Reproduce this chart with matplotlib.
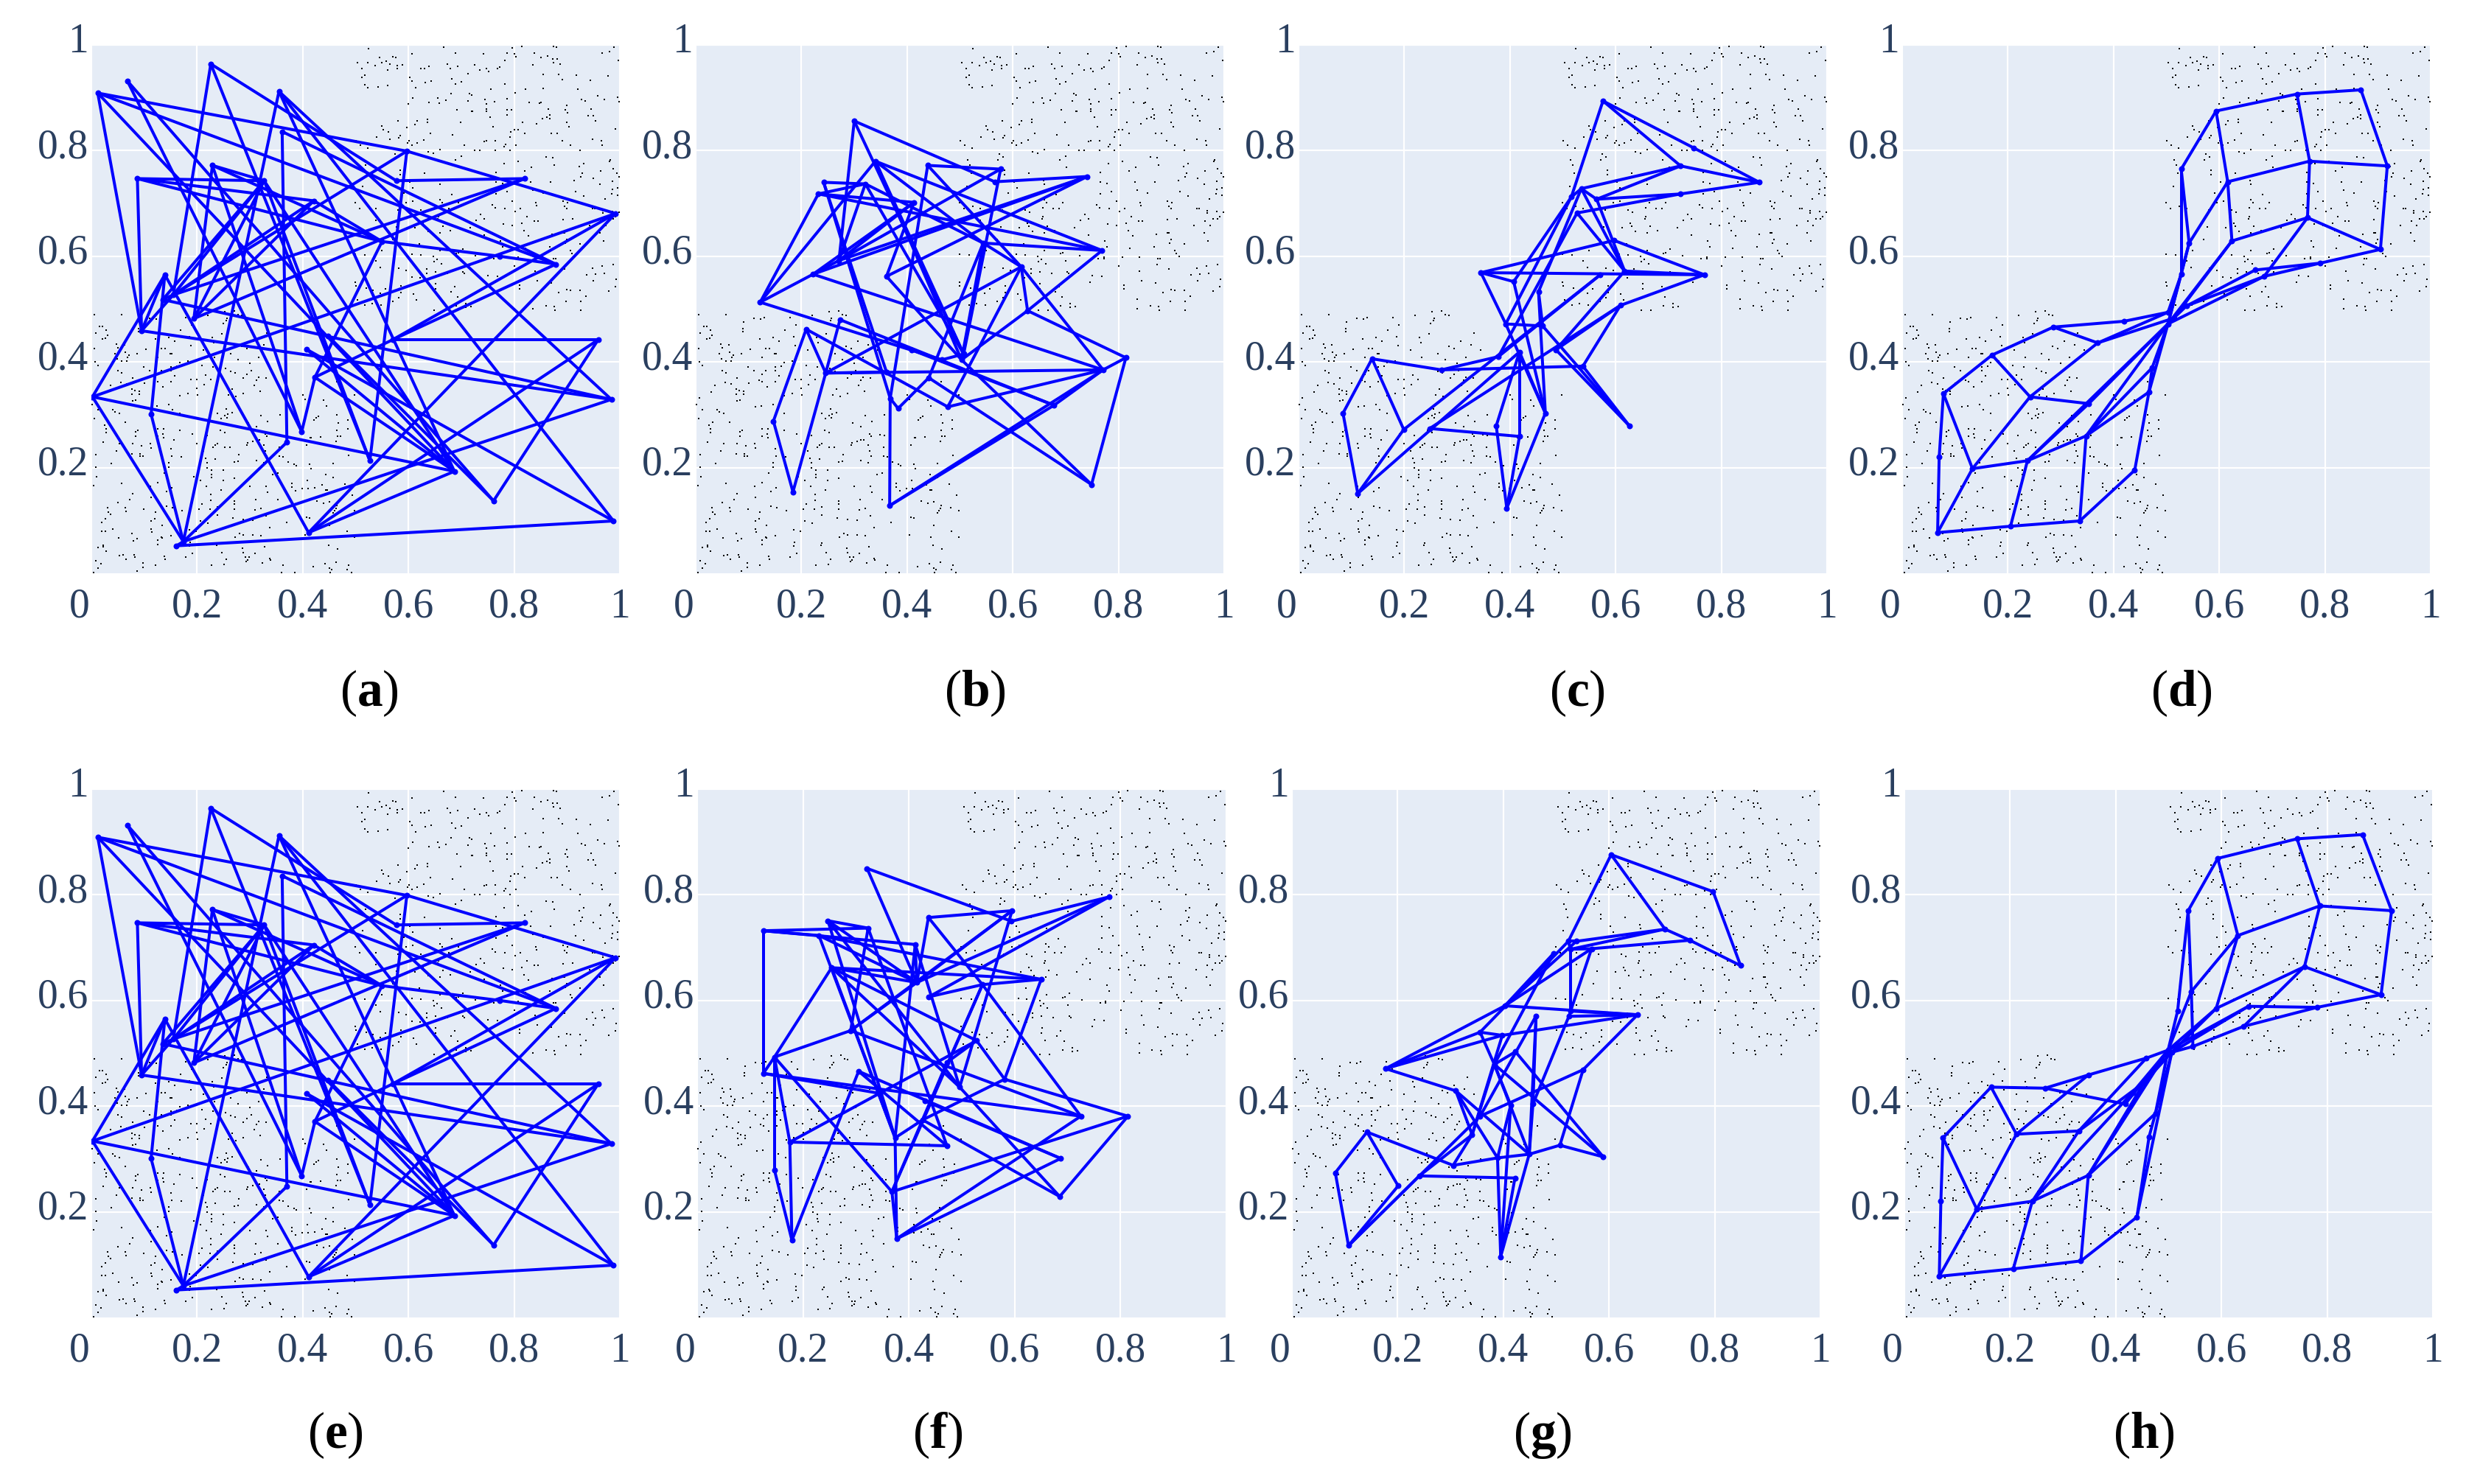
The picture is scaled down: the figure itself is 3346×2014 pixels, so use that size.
import matplotlib
matplotlib.use('Agg')
import matplotlib.pyplot as plt
from matplotlib.transforms import ScaledTranslation

# --- background samples (same in every panel) ---
dots_upper = [
    (.525,.993),(.666,.996),(.796,.995),(.814,.997),(.875,.997),(.880,.996),(.989,.996),(.607,.983),(.689,.985),(.742,.983),(.786,.985),(.800,.983),(.804,.977),(.838,.984),(.966,.984),(.980,.987),
    (.545,.976),(.570,.978),(.576,.976),(.851,.976),(.864,.979),(.873,.973),(.881,.974),(.997,.971),(.504,.966),(.523,.966),(.550,.967),(.558,.969),(.565,.964),(.537,.961),(.579,.961),(.588,.963),
    (.674,.964),(.783,.971),(.725,.962),(.693,.959),(.835,.963),(.874,.967),(.887,.964),(.512,.955),(.579,.956),(.560,.952),(.623,.955),(.631,.956),(.639,.960),(.679,.956),(.735,.953),(.748,.955),
    (.752,.950),(.768,.956),(.773,.958),(.517,.943),(.512,.938),(.602,.938),(.713,.945),(.855,.944),(.884,.944),(.918,.943),(.978,.942),(.682,.936),(.891,.935),(.944,.933),(.607,.931),(.632,.929),
    (.643,.932),(.689,.926),(.700,.930),(.782,.926),(.517,.925),(.523,.919),(.542,.920),(.561,.923),(.614,.919),(.756,.917),(.822,.917),(.855,.918),(.921,.917),(.681,.908),(.715,.908),(.720,.905),
    (.802,.910),(.958,.904),(.608,.900),(.656,.900),(.671,.896),(.712,.894),(.745,.897),(.763,.893),(.787,.898),(.928,.897),(.935,.894),(.971,.897),(.996,.901),(.999,.893),(.600,.889),(.639,.891),
    (.658,.890),(.747,.888),(.829,.891),(.848,.890),(.851,.891),(.900,.886),(.748,.879),(.748,.874),(.692,.877),(.719,.874),(.721,.875),(.787,.877),(.795,.877),(.786,.868),(.865,.879),(.897,.877),
    (.901,.871),(.946,.879),(.754,.863),(.868,.867),(.862,.863),(.867,.861),(.853,.861),(.940,.866),(.950,.866),(.954,.857),(.616,.857),(.636,.859),(.636,.854),(.580,.857),(.699,.854),(.816,.853),
    (.842,.851),(.900,.853),(.550,.847),(.612,.850),(.597,.844),(.552,.840),(.760,.845),(.904,.845),(.991,.841),(.562,.836),(.808,.840),(.800,.839),(.793,.835),(.820,.833),(.642,.833),(.870,.833),
    (.881,.832),(.684,.830),(.792,.826),(.585,.829),(.581,.824),(.540,.825),(.565,.822),(.891,.818),(.948,.822),(.965,.819),(.501,.819),(.601,.818),(.598,.815),(.616,.815),(.629,.820),(.743,.817),
    (.748,.818),(.764,.819),(.509,.811),(.606,.810),(.706,.810),(.784,.812),(.803,.810),(.907,.810),(.966,.810),(.523,.805),(.781,.807),(.764,.801),(.638,.798),(.659,.802),(.725,.801),(.735,.801),
    (.792,.800),(.924,.801),(.647,.795),(.574,.793),(.581,.788),(.700,.790),(.860,.788),(.873,.787),(.515,.783),(.572,.782),(.689,.782),(.807,.779),(.982,.783),(.981,.780),(.931,.776),(.781,.775),
    (.876,.773),(.519,.772),(.701,.769),(.923,.770),(.832,.768),(.585,.763),(.820,.761),(.987,.766),(.964,.762),(.631,.757),(.521,.757),(.765,.759),(.929,.757),(.995,.758),(.585,.754),(.999,.751),
    (.926,.750),(.950,.748),(.658,.743),(.765,.741),(.778,.738),(.831,.740),(.869,.740),(.914,.744),(.986,.742),(.603,.740),(.660,.737),(.513,.732),(.608,.729),(.962,.737),(.996,.729),(.986,.727),
    (.835,.725),(.786,.723),(.916,.722),(.855,.720),(.591,.719),(.682,.717),(.765,.718),(.985,.718),(.996,.715),(.931,.714),(.608,.705),(.595,.701),(.659,.707),(.664,.702),(.695,.702),(.796,.705),
    (.972,.709),(.893,.704),(.901,.702),(.841,.701),(.499,.701),(.759,.698),(.843,.696),(.896,.694),(.525,.694),(.657,.692),(.676,.691),(.688,.690),(.764,.692),(.782,.691),(.812,.691),(.899,.690),
    (.948,.690),(.953,.691),(.508,.690),(.539,.690),(.580,.688),(.623,.688),(.632,.684),(.802,.685),(.968,.686),(.968,.682),(.986,.685),(.998,.684),(.736,.679),(.657,.675),(.656,.671),(.743,.671),
    (.728,.668),(.824,.675),(.911,.671),(.991,.675),(.979,.671),(.987,.671),(.893,.669),(.838,.667),(.845,.667),(.964,.667),(.538,.668),(.627,.663),(.780,.661),(.815,.663),(.797,.658),(.943,.658),
    (.974,.658),(.631,.657),(.665,.657),(.578,.656),(.612,.654),(.717,.654),(.818,.649),(.679,.648),(.659,.645),(.637,.647),(.892,.644),(.896,.644),(.872,.642),(.962,.644),(.743,.640),(.827,.639),
    (.570,.632),(.900,.632),(.774,.629),(.970,.629),(.924,.624),(.897,.625),(.868,.618),(.778,.618),(.621,.623),(.821,.615),(.550,.611),(.660,.611),(.906,.611),(.703,.614),(.607,.604),(.623,.603),
    (.691,.605),(.695,.606),(.518,.603),(.499,.604),(.909,.605),(.772,.599),(.762,.596),(.772,.595),(.727,.601),(.647,.600),(.915,.600),(.807,.598),(.840,.598),(.874,.596),(.878,.595),(.700,.592),
    (.649,.590),(.654,.594),(.539,.592),(.662,.586),(.873,.585),(.966,.582),(.988,.585),(.948,.578),(.801,.582),(.547,.579),(.582,.578),(.634,.576),(.895,.576),(.596,.573),(.651,.571),(.840,.572),
    (.703,.571),(.634,.567),(.706,.568),(.673,.567),(.971,.568),(.954,.566),(.937,.565),(.751,.564),(.769,.562),(.607,.561),(.622,.559),(.950,.554),(.993,.557),(.499,.551),(.844,.553),(.870,.550),
    (.746,.551),(.652,.548),(.500,.544),(.811,.546),(.586,.544),(.687,.543),(.991,.543),(.520,.540),(.651,.539),(.810,.539),(.899,.537),(.906,.535),(.925,.535),(.979,.534),(.533,.536),(.557,.539),
    (.547,.530),(.586,.531),(.680,.533),(.884,.531),(.609,.529),(.581,.522),(.936,.525),(.693,.523),(.658,.525),(.503,.518),(.615,.518),(.835,.519),(.898,.515),(.926,.515),(.570,.514),(.531,.511),
    (.548,.508),(.517,.508),(.709,.511),(.691,.506),(.718,.505),(.709,.503),(.860,.506),(.876,.505),(.648,.498),(.666,.498),(.835,.501),(.877,.498),(.926,.498),
]
dots_lower = [
    (.006,.490),(.057,.490),(.110,.483),(.123,.481),(.130,.484),(.178,.484),(.220,.488),(.253,.495),(.271,.496),(.278,.490),(.284,.488),(.257,.483),(.255,.479),(.250,.473),(.091,.476),(.015,.467),
    (.021,.467),(.028,.460),(.089,.463),(.089,.458),(.009,.455),(.189,.470),(.169,.460),(.031,.450),(.027,.445),(.021,.443),(.186,.448),(.146,.447),(.122,.444),(.157,.439),(.229,.447),(.247,.453),
    (.232,.437),(.307,.439),(.332,.454),(.284,.429),(.294,.425),(.326,.433),(.344,.422),(.047,.434),(.063,.432),(.050,.427),(.103,.424),(.133,.426),(.140,.426),(.005,.425),(.188,.431),(.212,.423),
    (.045,.416),(.064,.418),(.071,.413),(.087,.416),(.149,.415),(.152,.416),(.263,.415),(.233,.409),(.069,.409),(.049,.406),(.125,.408),(.183,.402),(.316,.409),(.277,.404),(.300,.397),(.007,.400),
    (.057,.401),(.067,.401),(.167,.399),(.013,.394),(.099,.391),(.150,.390),(.162,.392),(.209,.394),(.230,.391),(.254,.388),(.133,.383),(.050,.383),(.150,.384),(.110,.383),(.057,.380),(.272,.380),
    (.263,.382),(.303,.383),(.294,.376),(.125,.376),(.216,.375),(.157,.374),(.078,.369),(.287,.369),(.331,.370),(.316,.371),(.188,.367),(.199,.367),(.120,.365),(.126,.363),(.150,.363),(.226,.367),
    (.056,.361),(.067,.358),(.100,.360),(.213,.357),(.036,.356),(.312,.365),(.308,.356),(.135,.353),(.077,.348),(.082,.346),(.091,.344),(.200,.350),(.266,.349),(.320,.345),(.029,.343),(.077,.339),
    (.091,.339),(.201,.337),(.183,.341),(.259,.338),(.288,.341),(.274,.335),(.007,.332),(.168,.336),(.078,.326),(.084,.328),(.002,.320),(.113,.315),(.124,.317),(.147,.319),(.405,.329),(.400,.337),
    (.445,.316),(.439,.328),(.465,.363),(.498,.338),(.041,.309),(.045,.306),(.053,.303),(.013,.310),(.153,.310),(.167,.303),(.255,.311),(.267,.304),(.238,.303),(.258,.301),(.252,.299),(.321,.298),
    (.357,.300),(.246,.293),(.257,.294),(.430,.297),(.425,.294),(.421,.290),(.465,.300),(.005,.293),(.032,.286),(.064,.286),(.297,.285),(.333,.287),(.467,.284),(.486,.290),(.025,.280),(.312,.277),
    (.126,.273),(.137,.274),(.244,.270),(.464,.271),(.485,.273),(.028,.273),(.028,.267),(.084,.268),(.088,.270),(.168,.270),(.252,.267),(.135,.264),(.191,.263),(.219,.261),(.329,.263),(.349,.262),
    (.357,.261),(.084,.260),(.126,.259),(.136,.256),(.332,.259),(.312,.253),(.318,.252),(.415,.256),(.434,.258),(.466,.260),(.471,.260),(.414,.256),(.156,.252),(.022,.248),(.306,.249),(.295,.247),
    (.294,.242),(.463,.249),(.053,.246),(.078,.245),(.112,.246),(.199,.246),(.238,.245),(.235,.242),(.230,.238),(.326,.243),(.407,.243),(.252,.239),(.262,.238),(.356,.239),(.047,.232),(.095,.241),
    (.113,.237),(.150,.236),(.212,.232),(.329,.232),(.077,.226),(.092,.226),(.009,.225),(.279,.225),(.332,.222),(.092,.222),(.097,.222),(.152,.222),(.356,.222),(.363,.220),(.487,.223),(.170,.220),
    (.216,.218),(.235,.216),(.312,.214),(.278,.212),(.270,.210),(.326,.209),(.373,.210),(.037,.208),(.146,.209),(.219,.209),(.383,.206),(.388,.204),(.458,.208),(.413,.206),(.008,.201),(.146,.201),
    (.219,.199),(.415,.198),(.250,.195),(.138,.190),(.227,.195),(.227,.187),(.010,.183),(.194,.183),(.343,.187),(.353,.189),(.228,.181),(.271,.180),(.444,.187),(.458,.182),(.206,.176),(.250,.176),
    (.409,.176),(.126,.171),(.057,.170),(.004,.166),(.111,.164),(.217,.165),(.300,.165),(.331,.165),(.379,.170),(.480,.169),(.152,.162),(.379,.163),(.423,.162),(.436,.167),(.399,.160),(.410,.160),
    (.142,.155),(.245,.157),(.333,.153),(.387,.156),(.443,.158),(.447,.158),(.078,.150),(.226,.149),(.494,.148),(.113,.143),(.073,.139),(.226,.138),(.311,.140),(.353,.139),(.427,.137),(.439,.133),
    (.451,.135),(.050,.134),(.271,.137),(.271,.131),(.209,.131),(.142,.127),(.154,.124),(.031,.124),(.064,.124),(.238,.125),(.321,.123),(.309,.120),(.465,.129),(.463,.123),(.482,.124),(.204,.121),
    (.224,.121),(.271,.121),(.099,.121),(.460,.119),(.498,.118),(.066,.117),(.122,.116),(.032,.116),(.458,.115),(.172,.118),(.036,.111),(.239,.110),(.331,.109),(.027,.103),(.407,.106),(.413,.104),
    (.268,.104),(.287,.102),(.306,.101),(.120,.103),(.113,.099),(.207,.099),(.020,.096),(.220,.095),(.370,.096),(.134,.091),(.451,.091),(.337,.087),(.040,.083),(.113,.083),(.185,.082),(.198,.079),
    (.484,.080),(.020,.079),(.027,.079),(.114,.078),(.077,.075),(.281,.076),(.287,.073),(.306,.073),(.321,.071),(.404,.072),(.151,.071),(.132,.068),(.134,.067),(.051,.067),(.272,.068),(.445,.068),
    (.498,.068),(.087,.065),(.079,.062),(.126,.063),(.187,.059),(.239,.057),(.125,.054),(.237,.053),(.186,.051),(.449,.053),(.328,.050),(.022,.053),(.013,.049),(.023,.050),(.286,.048),(.466,.046),
    (.028,.042),(.287,.039),(.247,.039),(.191,.038),(.053,.033),(.060,.035),(.081,.035),(.082,.031),(.138,.032),(.179,.031),(.309,.037),(.292,.030),(.298,.030),(.337,.028),(.339,.025),(.255,.027),
    (.140,.027),(.065,.026),(.009,.024),(.296,.025),(.293,.022),(.018,.018),(.323,.019),(.098,.019),(.442,.018),(.463,.021),(.121,.016),(.228,.016),(.251,.017),(.362,.015),(.487,.016),(.098,.011),
    (.013,.010),(.420,.012),(.450,.010),(.455,.007),(.484,.007),(.087,.004),(.004,.001),(.360,.001),(.385,.001),(.452,.001),(.492,.001),
]

# --- network nodes and edges per panel ---
nodes_a = [
    (.012,.909),(.068,.932),(.226,.964),(.355,.912),(.361,.836),(.597,.799),(.577,.743),(.820,.747),(.992,.681),(.879,.585),
    (.773,.600),(.550,.628),(.421,.705),(.327,.743),(.229,.772),(.087,.747),(.095,.459),(.139,.565),(.135,.518),(.194,.482),
    (.002,.334),(.113,.301),(.161,.052),(.174,.060),(.370,.248),(.398,.268),(.411,.077),(.527,.213),(.687,.193),(.761,.137),
    (.988,.099),(.984,.329),(.959,.442),(.423,.371),(.407,.424),(.448,.449),(.570,.442),(.155,.527),
]
edges_a = [
    (0,16),(0,5),(0,9),(0,28),(1,25),(1,29),(2,37),(2,27),(2,6),(3,28),(3,30),(3,31),(3,23),(4,24),(4,9),(37,5),(5,27),(6,7),(5,8),
    (7,37),(7,19),(20,8),(8,36),(8,26),(9,36),(36,32),(36,33),(32,29),(32,26),(31,23),(16,31),(18,31),(34,30),(33,28),(34,28),
    (35,29),(20,17),(20,23),(20,28),(21,17),(21,23),(17,26),(16,37),(16,17),(15,16),(15,13),(15,12),(15,11),(14,19),(14,25),(14,13),
    (14,11),(13,37),(18,13),(13,19),(13,28),(13,27),(12,37),(12,19),(12,11),(11,10),(10,9),(11,33),(24,23),(25,33),(22,23),(22,30),(26,28),(18,37),
]
nodes_b = [
    (.300,.856),(.340,.780),(.439,.772),(.577,.765),(.566,.741),(.741,.751),(.769,.611),(.616,.580),(.628,.497),(.544,.625),
    (.413,.702),(.321,.737),(.242,.740),(.232,.718),(.271,.592),(.222,.566),(.361,.562),(.122,.513),(.209,.462),(.273,.480),
    (.246,.379),(.147,.288),(.184,.154),(.368,.331),(.383,.312),(.367,.128),(.477,.315),(.441,.370),(.361,.381),(.408,.423),
    (.466,.404),(.503,.404),(.678,.318),(.771,.385),(.814,.408),(.749,.168),(.507,.415),
]
edges_b = [
    (0,14),(0,4),(0,36),(1,17),(1,6),(1,31),(1,9),(2,3),(2,23),(2,7),(3,14),(3,36),(4,5),(5,14),(5,16),(5,15),(6,13),(6,9),(6,8),(8,31),
    (7,9),(7,8),(7,33),(7,26),(7,20),(8,34),(9,31),(9,27),(10,15),(10,14),(10,16),(10,13),(11,12),(11,13),(11,14),(11,9),(11,36),(12,28),(12,23),
    (13,17),(15,14),(15,17),(15,33),(17,30),(18,21),(18,20),(18,26),(19,32),(19,20),(20,22),(20,28),(20,33),(21,22),(23,25),(23,24),(24,27),(25,32),
    (25,33),(26,33),(27,35),(29,32),(31,35),(33,34),(34,35),(16,31),(30,36),(32,33),(1,36),
]
nodes_c = [
    (.576,.894),(.748,.805),(.723,.771),(.872,.740),(.535,.728),(.516,.712),(.564,.708),(.723,.718),(.527,.682),(.597,.630),
    (.617,.572),(.768,.565),(.571,.565),(.345,.569),(.407,.552),(.454,.533),(.609,.507),(.392,.472),(.462,.468),(.487,.423),
    (.538,.392),(.418,.419),(.378,.410),(.270,.385),(.139,.406),(.084,.303),(.199,.272),(.248,.274),(.112,.151),(.374,.279),
    (.418,.259),(.467,.303),(.394,.123),(.626,.279),
]
edges_c = [
    (0,1),(1,3),(0,2),(2,3),(0,5),(2,4),(2,6),(3,7),(7,6),(7,8),(4,5),(4,6),(4,10),(6,10),(5,14),(5,17),(4,15),(8,10),(8,22),(9,13),(9,11),(10,11),
    (13,11),(13,14),(13,17),(14,31),(15,31),(15,18),(10,19),(11,16),(16,19),(16,20),(16,27),(17,18),(17,31),(18,33),(12,26),(12,22),(19,33),(20,33),
    (20,23),(21,30),(21,29),(22,23),(23,24),(24,25),(24,26),(25,28),(26,28),(21,28),(27,30),(29,32),(30,32),(31,32),(21,31),
]
nodes_d = [
    (.067,.077),(.205,.089),(.336,.099),(.440,.195),(.467,.343),(.473,.389),(.070,.220),(.133,.198),(.237,.213),(.348,.260),
    (.078,.340),(.242,.334),(.353,.321),(.170,.413),(.286,.466),(.370,.436),(.420,.477),(.503,.494),(.514,.483),(.503,.472),
    (.538,.506),(.528,.566),(.543,.625),(.528,.765),(.594,.875),(.747,.907),(.868,.915),(.918,.771),(.905,.613),(.791,.587),
    (.685,.562),(.668,.574),(.616,.741),(.771,.780),(.767,.673),(.624,.629),
]
edges_d = [
    (0,1),(1,2),(2,3),(3,4),(4,5),(5,19),(0,6),(6,10),(0,7),(7,10),(1,8),(7,8),(2,9),(8,9),(9,5),(9,19),(8,12),(12,19),(8,19),(11,12),(11,13),(11,7),
    (10,13),(13,14),(14,15),(14,16),(16,17),(15,11),(15,18),(15,17),(9,4),(21,23),(23,22),(22,21),(23,24),(24,25),(25,26),(26,27),(27,28),(28,29),
    (29,30),(29,31),(30,20),(31,20),(24,32),(25,33),(32,33),(33,27),(33,34),(34,28),(32,35),(34,35),(32,22),(22,19),(35,18),(35,19),(34,30),(21,19),
    (4,19),(20,18),(17,21),(30,19),
]
nodes_f = [
    (.321,.850),(.778,.796),(.595,.770),(.594,.750),(.437,.757),(.247,.751),(.323,.737),(.125,.732),(.230,.723),(.412,.706),
    (.254,.662),(.650,.640),(.539,.630),(.415,.634),(.438,.607),(.290,.543),(.528,.524),(.146,.493),(.125,.462),(.305,.466),
    (.472,.483),(.496,.436),(.581,.451),(.346,.424),(.430,.410),(.725,.381),(.814,.381),(.426,.374),(.374,.340),(.175,.332),
    (.472,.325),(.687,.301),(.146,.279),(.368,.238),(.685,.229),(.377,.149),(.179,.146),
]
edges_f = [
    (0,3),(0,13),(1,3),(1,14),(1,13),(2,4),(2,13),(2,21),(4,12),(4,13),(5,6),(5,13),(5,21),(5,28),(6,7),(6,15),(6,30),(7,8),(7,18),(7,9),(8,11),(8,13),
    (8,28),(9,28),(9,21),(9,13),(10,13),(10,11),(10,16),(10,17),(10,21),(10,28),(11,12),(11,22),(12,25),(13,15),(14,12),(15,17),(15,25),(16,22),(16,29),
    (12,27),(12,33),(17,18),(17,29),(17,32),(17,33),(18,25),(19,36),(19,31),(19,30),(21,34),(22,26),(23,18),(24,31),(27,34),(27,28),(27,22),(28,35),(29,30),
    (29,36),(32,36),(33,26),(33,35),(35,25),(35,31),(26,34),(2,15),(20,16),(20,33),
]
nodes_g = [
    (.604,.876),(.797,.806),(.706,.735),(.753,.714),(.849,.666),(.523,.712),(.538,.712),(.567,.698),(.527,.697),(.495,.689),
    (.403,.590),(.527,.580),(.524,.570),(.654,.573),(.462,.571),(.356,.540),(.398,.534),(.423,.503),(.383,.479),(.177,.471),
    (.551,.469),(.310,.429),(.456,.404),(.414,.402),(.356,.381),(.142,.351),(.341,.346),(.507,.326),(.589,.304),(.449,.309),
    (.389,.302),(.305,.288),(.082,.274),(.201,.249),(.241,.268),(.422,.264),(.107,.136),(.395,.115),
]
edges_g = [
    (0,1),(1,4),(4,3),(3,2),(0,2),(0,5),(5,6),(6,2),(2,8),(3,7),(7,8),(5,8),(5,15),(15,19),(10,19),(16,19),(9,10),(8,11),(7,12),(12,22),(6,10),(7,10),
    (10,13),(11,13),(12,13),(16,13),(15,18),(18,29),(15,16),(9,18),(14,22),(14,29),(14,24),(16,26),(17,28),(18,28),(18,26),(17,18),(20,13),(20,27),(20,24),
    (21,19),(21,29),(21,30),(21,26),(26,31),(23,30),(23,37),(23,18),(22,29),(29,37),(27,28),(27,29),(29,30),(30,31),(30,37),(35,37),(34,35),(25,31),(25,33),
    (25,32),(32,36),(33,36),(34,36),(24,36),(26,34),
]
nodes_h = [
    (.066,.078),(.206,.092),(.334,.107),(.440,.190),(.463,.342),(.475,.386),(.069,.220),(.137,.205),(.242,.220),(.348,.269),
    (.073,.340),(.212,.347),(.330,.353),(.164,.436),(.266,.434),(.348,.459),(.418,.404),(.432,.426),(.458,.491),(.499,.506),
    (.506,.502),(.546,.513),(.517,.580),(.543,.617),(.537,.770),(.593,.869),(.743,.906),(.867,.914),(.922,.770),(.902,.611),
    (.781,.587),(.651,.589),(.642,.551),(.590,.585),(.631,.723),(.786,.779),(.757,.664),(.454,.445),
]
edges_h = [
    (0,1),(1,2),(2,3),(3,4),(4,5),(5,19),(3,20),(0,6),(6,10),(0,7),(7,10),(1,8),(7,8),(2,9),(8,9),(9,5),(5,20),(9,37),(9,19),(8,17),(8,12),(12,37),(7,11),
    (10,13),(13,11),(13,14),(14,15),(14,16),(15,18),(18,19),(11,12),(11,15),(12,18),(16,17),(16,19),(17,19),(37,20),(20,21),(21,32),(32,30),(30,31),(31,20),
    (31,19),(30,29),(29,36),(36,33),(33,19),(33,20),(36,32),(29,28),(28,27),(27,26),(26,25),(25,24),(24,22),(22,19),(24,23),(23,21),(23,34),(34,25),(34,35),
    (26,35),(35,28),(35,36),(34,33),(23,19),
]

panel_letters = ['a', 'b', 'c', 'd', 'e', 'f', 'g', 'h']
panel_nodes = [nodes_a, nodes_b, nodes_c, nodes_d, nodes_a, nodes_f, nodes_g, nodes_h]
panel_edges = [edges_a, edges_b, edges_c, edges_d, edges_a, edges_f, edges_g, edges_h]

tick_vals = [0, 0.2, 0.4, 0.6, 0.8, 1]
tick_txt = ['0', '0.2', '0.4', '0.6', '0.8', '1']

W, H = 3346, 2015
BLUE = '#0000ff'
INK = '#2a3f5f'

# axes boxes in pixels: left, right, top, bottom
boxes = [
    (124, 841, 62, 779), (944, 1661, 62, 779), (1762, 2479, 62, 779), (2581, 3298, 62, 779),
    (124, 841, 1072, 1789), (946, 1664, 1072, 1789), (1753, 2470, 1072, 1789), (2584, 3301, 1072, 1789),
]
# caption centres in pixels
captions = [(501, 941), (1323, 941), (2140, 941), (2960, 941), (455, 1948), (1272, 1948), (2093, 1948), (2909, 1948)]

plt.rcParams['font.family'] = ['Liberation Serif', 'DejaVu Serif']
plt.rcParams['mathtext.fontset'] = 'custom'
plt.rcParams['mathtext.rm'] = 'Liberation Serif'
plt.rcParams['mathtext.bf'] = 'Liberation Serif:bold'

fig = plt.figure(figsize=(W / 100, H / 100), dpi=100)


def px(n):
    return n * 72 / 100


for i, letter in enumerate(panel_letters):
    l, r, t, b = boxes[i]
    ax = fig.add_axes([l / W, 1 - b / H, (r - l) / W, (b - t) / H])
    ax.set_facecolor('#e5ecf6')
    ax.set_xlim(0, 1)
    ax.set_ylim(0, 1)
    for s in ax.spines.values():
        s.set_visible(False)
    ax.set_xticks(tick_vals, tick_txt)
    ax.set_yticks(tick_vals[1:], tick_txt[1:])
    ax.tick_params(length=0, labelsize=40, labelcolor=INK)
    ax.tick_params(axis='x', pad=px(19))
    ax.tick_params(axis='y', pad=px(4))
    ax.grid(True, color='white', linewidth=px(2.2))
    ax.set_axisbelow(True)

    # tick labels sit off the gridlines in the original
    for lab in ax.get_yticklabels():
        lab.set_transform(lab.get_transform() + ScaledTranslation(0, 11 / 100, fig.dpi_scale_trans))
    zero = ax.get_xticklabels()[0]
    zero.set_transform(zero.get_transform() + ScaledTranslation(-16 / 100, 0, fig.dpi_scale_trans))

    dots = dots_upper + dots_lower
    ax.scatter([d[0] for d in dots], [d[1] for d in dots], s=2.6, c='black', marker='s', linewidths=0, zorder=2)

    nodes = panel_nodes[i]
    for p, q in panel_edges[i]:
        ax.plot([nodes[p][0], nodes[q][0]], [nodes[p][1], nodes[q][1]], color=BLUE, lw=px(4),
                solid_capstyle='round', zorder=3)
    ax.plot([n[0] for n in nodes], [n[1] for n in nodes], 'o', color=BLUE, ms=px(8), mew=0, zorder=4)

    cx, cy = captions[i]
    fig.text(cx / W, 1 - cy / H, '(' + r'$\mathbf{' + letter + '}$' + ')', fontsize=50, color='black',
             ha='center', va='center')

fig.savefig('out.png', dpi=100, facecolor='white')
